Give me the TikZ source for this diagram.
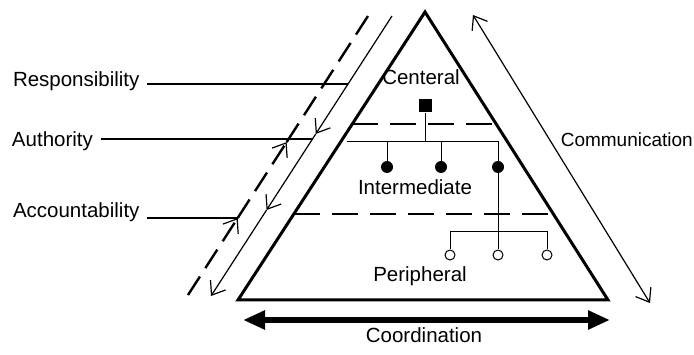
\documentclass[tikz,border=0pt]{standalone}
\usepackage{fontspec}
\setmainfont{Liberation Sans}
\usetikzlibrary{arrows.meta,calc}
\tikzset{
  barb/.tip={Straight Barb[length=12pt,width=18pt,line width=1.2pt]},
  bigtri/.tip={Triangle[length=22pt,width=18pt]},
  lbl/.style={font=\fontsize{20.5}{24}\selectfont, inner sep=0pt},
  sidelbl/.style={lbl, outer xsep=8pt},
  pyramid/.style={line width=3pt, line join=miter},
  levelsep/.style={line width=2.5pt, dash pattern=on 26pt off 12pt},
  dashln/.style={line width=2.4pt, dash pattern=on 22pt off 10pt},
  thinln/.style={line width=1.2pt},
  orgln/.style={line width=1pt},
  headbox/.style={fill=black, minimum size=13pt, inner sep=0pt},
  middot/.style={circle, fill=black, minimum size=12pt, inner sep=0pt},
  ring/.style={circle, draw, fill=white, line width=1pt, minimum size=10pt, inner sep=0pt},
  coordarrow/.style={line width=5.5pt, {bigtri}-{bigtri}}
}
\begin{document}
\begin{tikzpicture}[x=1pt,y=-1pt]
\useasboundingbox (0,0) rectangle (694,355);

% pyramid
\coordinate (apex) at (425,12);
\coordinate (bl) at (238,300);
\coordinate (br) at (608,300);
\draw[pyramid] (apex) -- (bl) -- (br) -- cycle;

% level separators
\coordinate (s1L) at ($(apex)!0.3889!(bl)$);
\coordinate (s1R) at ($(apex)!0.3889!(br)$);
\coordinate (s2L) at ($(apex)!0.7014!(bl)$);
\coordinate (s2R) at ($(apex)!0.7014!(br)$);
\draw[levelsep] (s1L) -- (s1R);
\draw[levelsep] (s2L) -- (s2R);

% level labels
\node[lbl, anchor=base] (cen) at (421,85) {Centeral};
\node[lbl, anchor=base] (mid) at (415,195) {Intermediate};
\node[lbl, anchor=base] (per) at (420,282) {Peripheral};

% organisation chart
\node[headbox] (c) at (425,106) {};
\node[middot] (i1) at (387,167) {};
\node[middot] (i2) at (441,167) {};
\node[middot] (i3) at (498,167) {};
\node[ring] (p1) at (450,255) {};
\node[ring] (p2) at (498,255) {};
\node[ring] (p3) at (547,255) {};
\coordinate (busL) at (347,142);
\coordinate (busR) at (498,142);
\coordinate (pbL) at (450,232);
\coordinate (pbR) at (547,232);
\draw[orgln] (c) -- (c |- busL);
\draw[orgln] (busL) -- (busR) -- (i3);
\draw[orgln] (i1) -- (i1 |- busL);
\draw[orgln] (i2) -- (i2 |- busL);
\draw[orgln] (i3) -- (p2);
\draw[orgln] (p1) -- (pbL) -- (pbR) -- (p3);

% communication
\coordinate (cm1) at (473,15);
\coordinate (cm2) at (650,303);
\draw[thinln, {barb}-{barb}] (cm1) -- (cm2);
\node[lbl, font=\fontsize{19}{23}\selectfont, anchor=base east] (com) at (693,147) {Communication};

% coordination
\coordinate (co1) at (243,320);
\coordinate (co2) at (610,320);
\draw[coordarrow] (co1) -- (co2);
\node[lbl, anchor=base] (coo) at (424,343) {Coordination};

% downward (solid) line
\coordinate (T) at (392,16);
\coordinate (Bt) at (211,296);
\coordinate (A1) at ($(T)!0.421!(Bt)$);
\coordinate (A2) at ($(T)!0.693!(Bt)$);
\coordinate (R1) at ($(T)!0.243!(Bt)$);
\coordinate (R2) at ($(T)!0.439!(Bt)$);
\draw[thinln, -{barb}] (T) -- (A1);
\draw[thinln, -{barb}] (A1) -- (A2);
\draw[thinln, -{barb}] (A2) -- (Bt);

% upward (dashed) line
\coordinate (B) at (188,295);
\coordinate (Dt) at (368,16);
\coordinate (D1) at ($(B)!0.276!(Dt)$);
\coordinate (D2) at ($(B)!0.548!(Dt)$);
\draw[dashln, -{barb}] (B) -- (D1);
\draw[dashln, -{barb}] (D1) -- (D2);
\draw[dashln] (D2) -- (Dt);

% side labels
\node[sidelbl, anchor=base west] (resp) at (5,87) {Responsibility};
\node[sidelbl, anchor=base west] (auth) at (4,147) {Authority};
\node[sidelbl, anchor=base west] (acc) at (5,218) {Accountability};
\draw[line width=1.6pt] (resp.east |- R1) -- (R1);
\draw[thinln] (auth.east |- R2) -- (R2);
\draw[thinln] (acc.east |- D1) -- (D1);
\end{tikzpicture}
\end{document}
